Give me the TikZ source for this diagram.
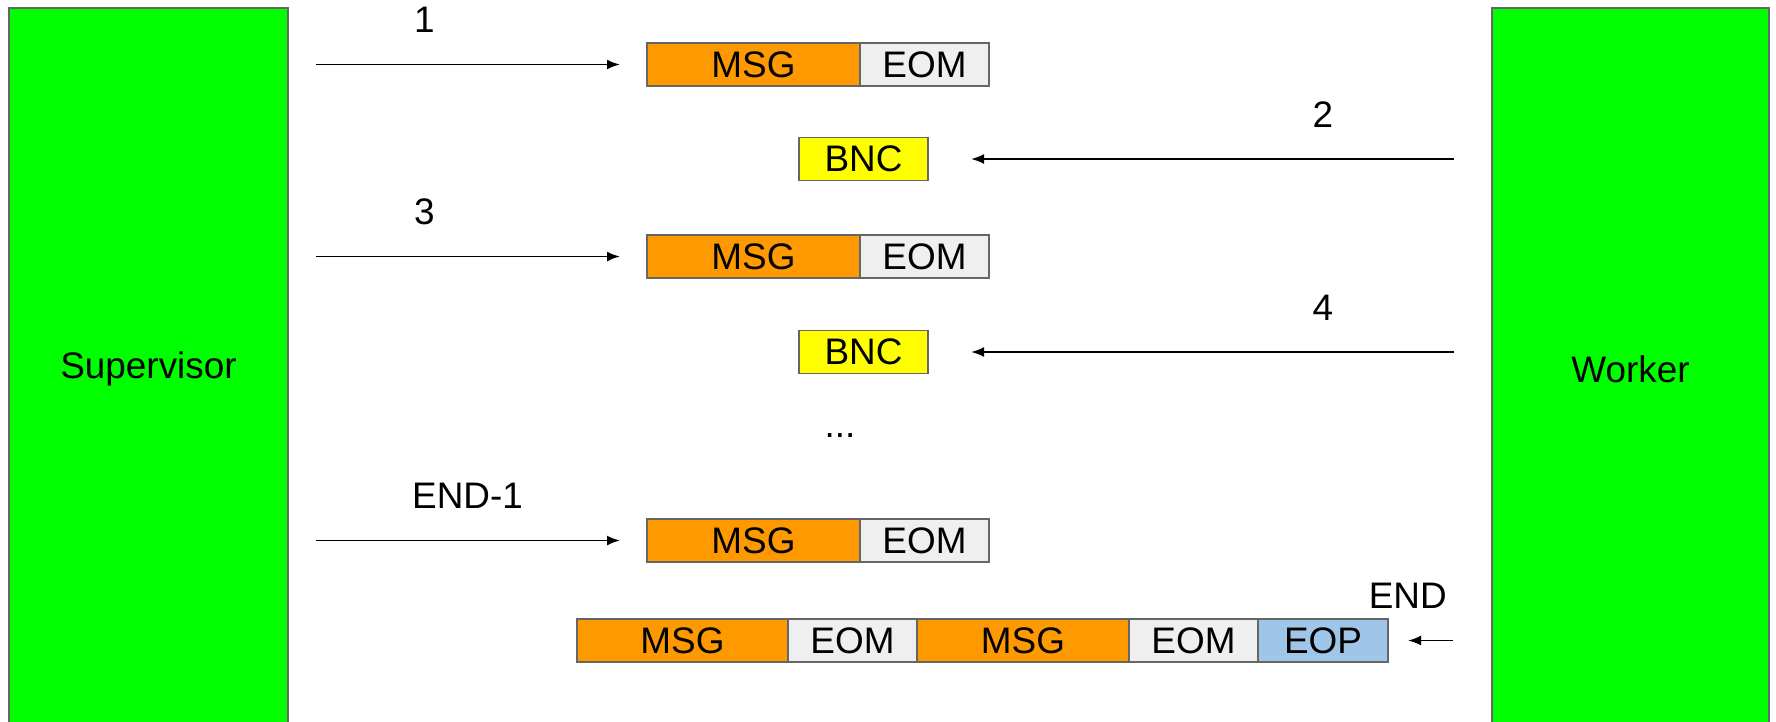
\documentclass[tikz,border=0pt]{standalone}
\usepackage{fontspec}
\setmainfont{Liberation Sans}
\usepackage{xcolor}
\definecolor{GdGreen}{HTML}{00FF00}
\definecolor{GdOrange}{HTML}{FF9900}
\definecolor{GdLight}{HTML}{EFEFEF}
\definecolor{GdYellow}{HTML}{FFFF00}
\definecolor{GdBlue}{HTML}{9FC5E8}
\definecolor{GdEdge}{HTML}{666666}
\usetikzlibrary{arrows.meta, positioning}

\begin{document}
\begin{tikzpicture}[
    every node/.style={font=\fontsize{10.5}{12.6}\selectfont},
    party/.style={draw=GdEdge, line width=0.4pt, fill=GdGreen, minimum height=7.22cm, inner sep=0pt, outer sep=0pt},
    cell/.style={draw=GdEdge, line width=0.4pt, minimum height=0.43cm, inner sep=0pt, outer sep=0pt},
    msg/.style={cell, fill=GdOrange, minimum width=2.13cm},
    eom/.style={cell, fill=GdLight, minimum width=1.29cm},
    bnc/.style={cell, fill=GdYellow, minimum width=1.29cm},
    eop/.style={cell, fill=GdBlue, minimum width=1.30cm},
    flow/.style={line width=0.55pt, -{Latex[length=1.3mm, width=1mm]}},
    lbl/.style={above=0.19cm},
]
% page: 1776 x 721 px, 1px = 0.01cm
\useasboundingbox (0,0) rectangle (17.76,-7.21);
\clip (0,0) rectangle (17.76,-7.21);

\def\yA{-0.645}
\def\yB{-1.59}
\def\yC{-2.565}
\def\yD{-3.52}
\def\yE{-5.405}
\def\yF{-6.405}

% Parties
\node[party, minimum width=2.79cm] (sup) at (1.485, -3.69) {Supervisor};
\node[party, minimum width=2.77cm] (wrk) at (16.305, -3.69) {Worker};

% Frames
\node[msg] (mA) at (7.535, \yA) {MSG};
\node[eom, right=0pt of mA] (eA) {EOM};
\node[bnc] (bA) at (8.635, \yB) {BNC};
\node[msg] (mB) at (7.535, \yC) {MSG};
\node[eom, right=0pt of mB] (eB) {EOM};
\node[bnc] (bB) at (8.635, \yD) {BNC};
\node[anchor=base] (dots) at (8.40, -4.37) {...};
\node[msg] (mC) at (7.535, \yE) {MSG};
\node[eom, right=0pt of mC] (eC) {EOM};

% Last batch
\node[msg, minimum width=2.11cm] (lA) at (6.825, \yF) {MSG};
\node[eom, right=0pt of lA] (lB) {EOM};
\node[msg, minimum width=2.12cm, right=0pt of lB] (lC) {MSG};
\node[eom, right=0pt of lC] (lD) {EOM};
\node[eop, right=0pt of lD] (lE) {EOP};

% Arrows
\draw[flow, shorten <=0.28cm, shorten >=0.27cm] (sup.east |- mA.west) -- node[lbl, pos=0.38] {1} (mA.west);
\draw[flow, shorten <=0.38cm, shorten >=0.43cm] (wrk.west |- bA.east) -- node[lbl, pos=0.30] {2} (bA.east);
\draw[flow, shorten <=0.28cm, shorten >=0.27cm] (sup.east |- mB.west) -- node[lbl, pos=0.38] {3} (mB.west);
\draw[flow, shorten <=0.38cm, shorten >=0.43cm] (wrk.west |- bB.east) -- node[lbl, pos=0.30] {4} (bB.east);
\draw[flow, shorten <=0.28cm, shorten >=0.27cm] (sup.east |- mC.west) -- node[lbl, pos=0.50] {END-1} (mC.west);
\draw[flow, shorten <=0.39cm, shorten >=0.20cm] (wrk.west |- lE.east) -- node[lbl, pos=0.81] {END} (lE.east);

\end{tikzpicture}
\end{document}
